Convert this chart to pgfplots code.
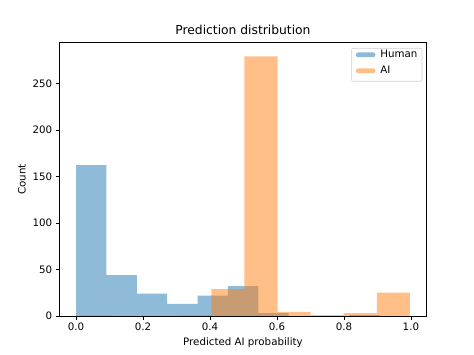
\documentclass[border=0pt]{standalone}
\usepackage{pgfplots}
\pgfplotsset{compat=1.18}
\usepackage{fontspec}
\setmainfont{DejaVu Sans}
\definecolor{cblue}{HTML}{1F77B4}
\definecolor{corange}{HTML}{FF7F0E}
\begin{document}
\begin{tikzpicture}
\path[use as bounding box] (0,0) rectangle (474bp,355bp);
\begin{axis}[
  at={(59.3bp,39bp)}, anchor=south west,
  scale only axis, width=367.3bp, height=273.3bp,
  xmin=-0.0499, xmax=1.0469, ymin=0, ymax=293.7,
  axis line style={line width=0.6bp},
  tick style={line width=0.6bp, black},
  tick align=outside, major tick length=3.6bp,
  xtick={0,0.2,...,1.0}, ytick={0,50,...,250},
  xticklabel style={/pgf/number format/.cd, fixed, fixed zerofill, precision=1},
  /pgf/number format/assume math mode=true,
  tick label style={font=\fontsize{10.3}{12}\selectfont},
  label style={font=\fontsize{10.3}{12}\selectfont},
  xtick pos=bottom, ytick pos=left,
  xlabel={Predicted AI probability}, ylabel={Count},
  title={Prediction distribution},
  title style={font=\fontsize{12.35}{14}\selectfont, yshift=-1bp},
  legend style={at={(0.9883,0.9806)}, anchor=north east, draw=black!18, line width=0.6bp, rounded corners=2pt,
    font=\fontsize{10.3}{12}\selectfont, inner xsep=4.6bp, inner ysep=0.5bp, row sep=0bp,
    nodes={inner xsep=0pt, inner ysep=0pt}},
  legend cell align=left,
  legend image code/.code={%
    \path[fill=none, draw=none] (0bp,-10bp) rectangle (24.4bp,6bp);
    \fill[#1] (0bp,-2.3bp) rectangle (19.4bp,2.3bp);},
]
\addplot[ybar interval, fill=cblue, fill opacity=0.5, draw=none] coordinates {
 (0.0000,162) (0.0907,44) (0.1814,24) (0.2721,13) (0.3628,22) (0.4535,32)
 (0.5442,3) (0.6349,0) (0.7256,0) (0.8163,1) (0.9070,1)};
\addlegendentry{Human\hspace{1bp}}
\addplot[ybar interval, fill=corange, fill opacity=0.5, draw=none] coordinates {
 (0.0090,1) (0.1078,0) (0.2066,0) (0.3054,1) (0.4042,29) (0.5030,279)
 (0.6018,4.5) (0.7006,1) (0.7994,3) (0.8982,25) (0.9970,25)};
\addlegendentry{AI}
\end{axis}
\end{tikzpicture}
\end{document}
